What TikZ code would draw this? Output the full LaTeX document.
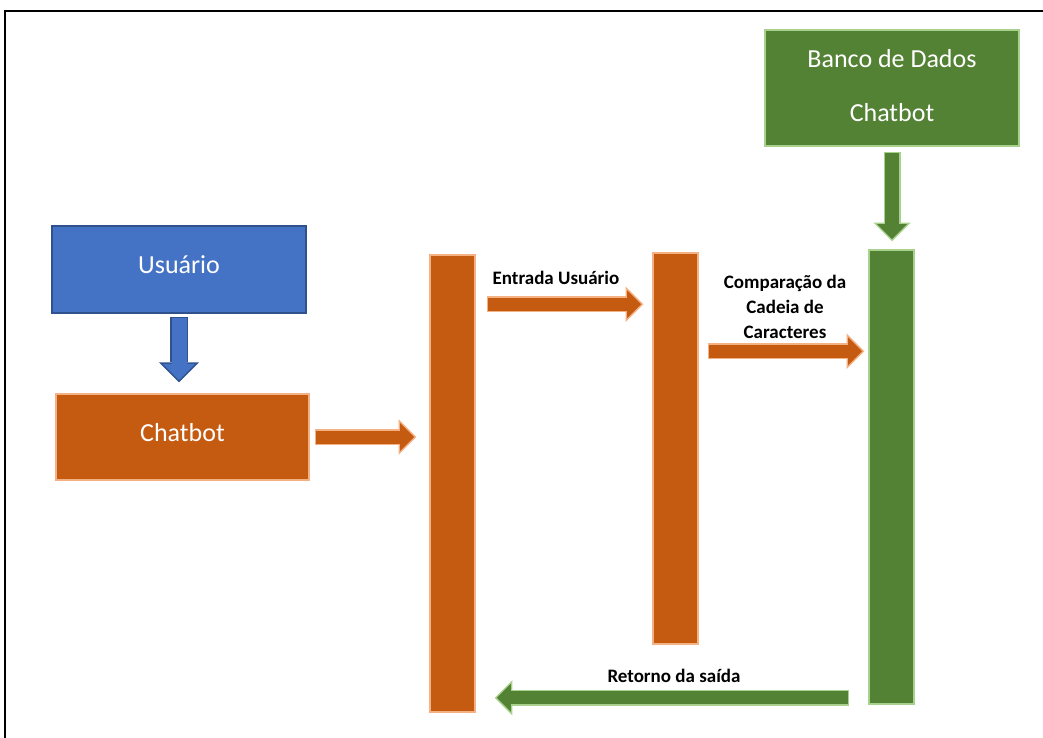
\documentclass[tikz,border=0pt]{standalone}
\usepackage{fontspec}
\setmainfont{Carlito}
\usetikzlibrary{arrows.meta,calc}

\definecolor{orangefill}{HTML}{C55A11}
\definecolor{orangeline}{HTML}{F4B183}
\definecolor{bluefill}{HTML}{4472C4}
\definecolor{blueline}{HTML}{2F528F}
\definecolor{greenfill}{HTML}{548235}
\definecolor{greenline}{HTML}{A9D18E}

% Block arrow with a thin outline: #1 fill, #2 outline, #3 shaft width, #4 start, #5 end
\newcommand\blockarrow[5]{%
  \pgfmathsetmacro\baW{#3}%
  \pgfmathsetmacro\baWi{#3-3}%
  \pgfmathsetmacro\baH{2.2*#3}%
  \pgfmathsetmacro\baL{1.1*#3}%
  \pgfmathsetmacro\baHi{2.2*#3-7.2}%
  \pgfmathsetmacro\baLi{1.1*#3-3.6}%
  \draw[#2, line width=\baW pt,
        -{Triangle[length=\baL pt, width=\baH pt, line width=0pt]}] #4 -- #5;
  \draw[#1, line width=\baWi pt, shorten <=1.5pt, shorten >=2.1pt,
        -{Triangle[length=\baLi pt, width=\baHi pt, line width=0pt]}] #4 -- #5;
}

\tikzset{
  box/.style={rectangle, inner sep=0pt, line width=1.5pt, text=white,
    font=\fontsize{26}{54}\selectfont, align=center},
  orangebox/.style={box, fill=orangefill, draw=orangeline},
  bluebox/.style={box, fill=bluefill, draw=blueline},
  greenbox/.style={box, fill=greenfill, draw=greenline},
  steplabel/.style={font=\fontsize{19}{25}\selectfont\bfseries, align=center, text=black},
}

\begin{document}
\begin{tikzpicture}[x=1pt, y=-1pt]
  \useasboundingbox (0,0) rectangle (1043,738);
  % frame
  \draw[line width=2pt] (5,738) -- (5,11) -- (1043,11);

  % boxes
  \node[bluebox, minimum width=254pt, minimum height=87pt, text depth=10pt] (user) at (179,269.5) {Usuário};
  \node[orangebox, minimum width=253pt, minimum height=86pt, text depth=10pt] (chat) at (182.5,437) {Chatbot};
  \node[greenbox, minimum width=254pt, minimum height=116pt, text depth=6pt] (db) at (892,88) {Banco de Dados\\Chatbot};

  % activation bars
  \node[orangebox, minimum width=45pt, minimum height=457pt] (bar1) at (452.5,483.5) {};
  \node[orangebox, minimum width=45pt, minimum height=391pt] (bar2) at (675.5,448.5) {};
  \node[greenbox, minimum width=45pt, minimum height=454pt] (bar3) at (891.5,477) {};

  % anchor points for the messages
  \coordinate (m1s) at ([shift={(11pt,-50pt)}]bar1.north east);
  \coordinate (m1e) at ([xshift=-9pt]m1s -| bar2.west);
  \coordinate (m2s) at ([shift={(9pt,-99pt)}]bar2.north east);
  \coordinate (m2e) at ([xshift=-4pt]m2s -| bar3.west);
  \coordinate (m3s) at ([shift={(-19pt,7pt)}]bar3.south west);
  \coordinate (m3e) at ([xshift=19pt]m3s -| bar1.east);

  % arrows
  \blockarrow{bluefill}{blueline}{18}{([yshift=-3pt]user.south)}{([yshift=11pt]user.south |- chat.north)}
  \blockarrow{orangefill}{orangeline}{16}{([xshift=5pt]chat.east)}{([xshift=-13pt]chat.east -| bar1.west)}
  \blockarrow{orangefill}{orangeline}{16}{(m1s)}{(m1e)}
  \blockarrow{orangefill}{orangeline}{16}{(m2s)}{(m2e)}
  \blockarrow{greenfill}{greenline}{17}{([yshift=-5pt]db.south)}{([yshift=8pt]db.south |- bar3.north)}
  \blockarrow{greenfill}{greenline}{16}{(m3s)}{(m3e)}

  % message labels
  \node[steplabel] (l1) at (556,278) {Entrada Usuário};
  \node[steplabel] (l2) at (785,307) {Comparação da\\Cadeia de\\Caracteres};
  \node[steplabel] (l3) at (674,676) {Retorno da saída};
\end{tikzpicture}
\end{document}
